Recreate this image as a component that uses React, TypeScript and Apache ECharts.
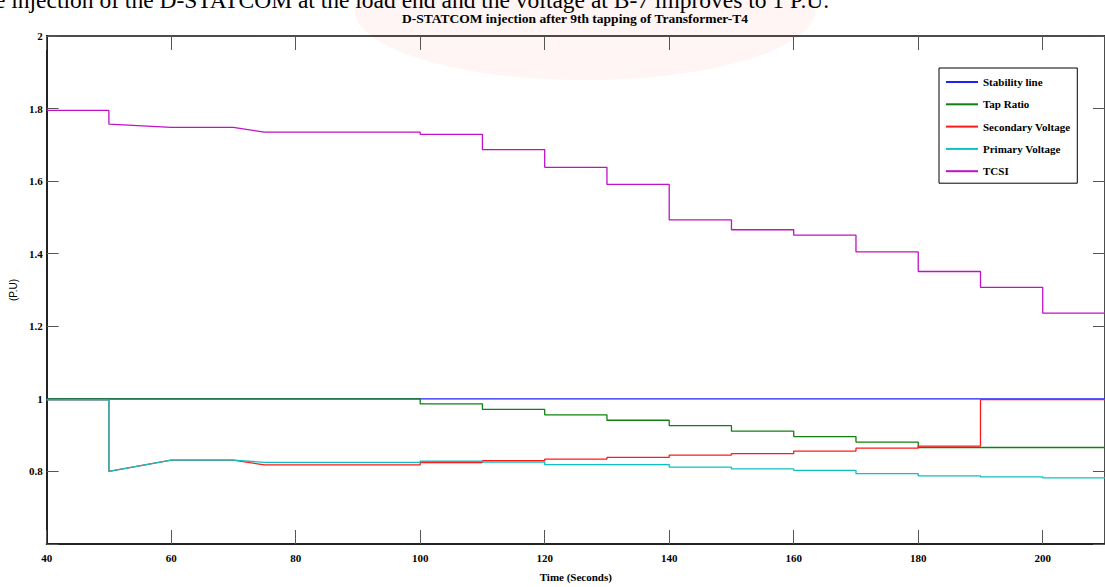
import React, { useEffect, useRef } from "react";
import * as echarts from "echarts";

const chartTitle = "D-STATCOM injection after 9th tapping of Transformer-T4";
const pageText = "e injection of the D-STATCOM at the load end and the voltage at B-7 improves to 1 P.U.";
const xName = "Time (Seconds)";
const yName = "(P.U)";
const seriesNames = ["Stability line", "Tap Ratio", "Secondary Voltage", "Primary Voltage", "TCSI"];
const seriesColors = ["#2020ff", "#108010", "#ff1a1a", "#10c0c0", "#c010c8"];

const stabilityLine: [number, number][] = [[40, 1.0], [210, 1.0]];

const tapRatio: [number, number][] = [
  [40, 1.0], [100, 1.0], [100, 0.986], [110, 0.986], [110, 0.971], [120, 0.971],
  [120, 0.956], [130, 0.956], [130, 0.941], [140, 0.941], [140, 0.926], [150, 0.926],
  [150, 0.911], [160, 0.911], [160, 0.896], [170, 0.896], [170, 0.881], [180, 0.881],
  [180, 0.866], [210, 0.866],
];

const secondaryVoltage: [number, number][] = [
  [40, 0.997], [50, 0.997], [50, 0.8], [60, 0.831], [70, 0.831], [75, 0.818],
  [100, 0.818], [100, 0.824], [110, 0.824], [110, 0.83], [120, 0.83], [120, 0.834],
  [130, 0.834], [130, 0.839], [140, 0.839], [140, 0.845], [150, 0.845], [150, 0.849],
  [160, 0.849], [160, 0.856], [170, 0.856], [170, 0.864], [180, 0.864], [180, 0.87],
  [190, 0.87], [190, 0.998], [210, 0.998],
];

const primaryVoltage: [number, number][] = [
  [40, 0.997], [50, 0.997], [50, 0.8], [60, 0.831], [70, 0.831], [75, 0.825],
  [100, 0.825], [100, 0.828], [110, 0.828], [110, 0.826], [120, 0.826], [120, 0.819],
  [140, 0.819], [140, 0.812], [150, 0.812], [150, 0.807], [160, 0.807], [160, 0.803],
  [170, 0.803], [170, 0.794], [180, 0.794], [180, 0.788], [190, 0.788], [190, 0.785],
  [200, 0.785], [200, 0.782], [210, 0.782],
];

const tcsi: [number, number][] = [
  [40, 1.795], [50, 1.795], [50, 1.757], [60, 1.748], [70, 1.748], [75, 1.735],
  [100, 1.735], [100, 1.729], [110, 1.729], [110, 1.687], [120, 1.687], [120, 1.638],
  [130, 1.638], [130, 1.591], [140, 1.591], [140, 1.493], [150, 1.493], [150, 1.466],
  [160, 1.466], [160, 1.451], [170, 1.451], [170, 1.405], [180, 1.405], [180, 1.351],
  [190, 1.351], [190, 1.307], [200, 1.307], [200, 1.236], [210, 1.236],
];

const allData = [stabilityLine, tapRatio, secondaryVoltage, primaryVoltage, tcsi];

export default function App() {
  const ref = useRef<HTMLDivElement>(null);
  useEffect(() => {
    if (!ref.current) return;
    const chart = echarts.init(ref.current, null, { renderer: "svg" });
    const serif = "'Liberation Serif', 'Times New Roman', serif";
    const tickStyle = { color: "#555", width: 1 };
    chart.setOption({
      animation: false,
      backgroundColor: "#ffffff",
      graphic: [
        {
          type: "ellipse",
          z: -10,
          silent: true,
          shape: { cx: 585, cy: 10, rx: 230, ry: 70 },
          style: { fill: "rgba(240,120,95,0.07)" },
        },
        {
          type: "text",
          z: 10,
          x: -5,
          y: 0,
          style: {
            text: pageText,
            font: "23.5px " + serif,
            fill: "#000",
            align: "left",
            verticalAlign: "middle",
          },
        },
        {
          type: "text",
          z: 10,
          x: 575,
          y: 18,
          style: {
            text: chartTitle,
            font: "bold 13.5px " + serif,
            fill: "#000",
            align: "center",
            verticalAlign: "middle",
          },
        },
      ],
      grid: { left: 45, right: -8, top: 36, bottom: 40, containLabel: false },
      legend: {
        orient: "vertical",
        left: 939,
        top: 68,
        padding: [8, 7, 6, 7],
        itemGap: 10.3,
        itemWidth: 32,
        itemHeight: 2,
        itemStyle: { borderWidth: 0 },
        icon: "rect",
        borderColor: "#000",
        borderWidth: 1,
        backgroundColor: "#fff",
        textStyle: { fontFamily: serif, fontWeight: "bold", fontSize: 11, color: "#000", lineHeight: 12, padding: [0, 0, 0, 0] },
        data: seriesNames,
      },
      xAxis: [
        {
          type: "value",
          min: 40,
          max: 210,
          interval: 20,
          position: "bottom",
          name: xName,
          nameLocation: "middle",
          nameGap: 27,
          nameTextStyle: { fontFamily: serif, fontWeight: "bold", fontSize: 11, color: "#000" },
          axisLine: { show: true, lineStyle: { color: "#222", width: 2 } },
          axisTick: { show: true, inside: true, length: 14, lineStyle: tickStyle },
          axisLabel: { fontFamily: serif, fontWeight: "bold", fontSize: 11, color: "#000", margin: 8, showMaxLabel: false },
          splitLine: { show: false },
        },
        {
          type: "value",
          min: 40,
          max: 210,
          interval: 20,
          position: "top",
          axisLine: { show: true, lineStyle: { color: "#111", width: 1.5 } },
          axisTick: { show: true, inside: true, length: 14, lineStyle: tickStyle },
          axisLabel: { show: false },
          splitLine: { show: false },
        },
      ],
      yAxis: [
        {
          type: "value",
          min: 0.6,
          max: 2,
          interval: 0.2,
          position: "left",
          name: yName,
          nameLocation: "middle",
          nameGap: 27,
          nameTextStyle: { fontFamily: "'Liberation Sans', Arial, sans-serif", fontSize: 10, color: "#000" },
          axisLine: { show: true, lineStyle: { color: "#222", width: 2 } },
          axisTick: { show: true, inside: true, length: 12, lineStyle: tickStyle },
          axisLabel: {
            fontFamily: serif,
            fontWeight: "bold",
            fontSize: 11,
            color: "#000",
            margin: 4,
            formatter: (v: number) => (Math.abs(v - 0.6) < 1e-6 ? "" : String(+v.toFixed(1))),
          },
          splitLine: { show: false },
        },
        {
          type: "value",
          min: 0.6,
          max: 2,
          interval: 0.2,
          position: "right",
          axisLine: { show: true, lineStyle: { color: "#111", width: 1.5 } },
          axisTick: { show: true, inside: true, length: 12, lineStyle: tickStyle },
          axisLabel: { show: false },
          splitLine: { show: false },
        },
      ],
      series: seriesNames.map((name, i) => ({
        name,
        type: "line",
        data: allData[i],
        showSymbol: false,
        symbol: "none",
        color: seriesColors[i],
        lineStyle: { color: seriesColors[i], width: 1.3 },
        xAxisIndex: 0,
        yAxisIndex: 0,
        z: 2 + i,
      })),
    });
    return () => chart.dispose();
  }, []);
  return (
    <div
      ref={ref}
      style={{ position: "absolute", left: 0, top: 0, width: 1105, height: 587, overflow: "hidden" }}
    />
  );
}
